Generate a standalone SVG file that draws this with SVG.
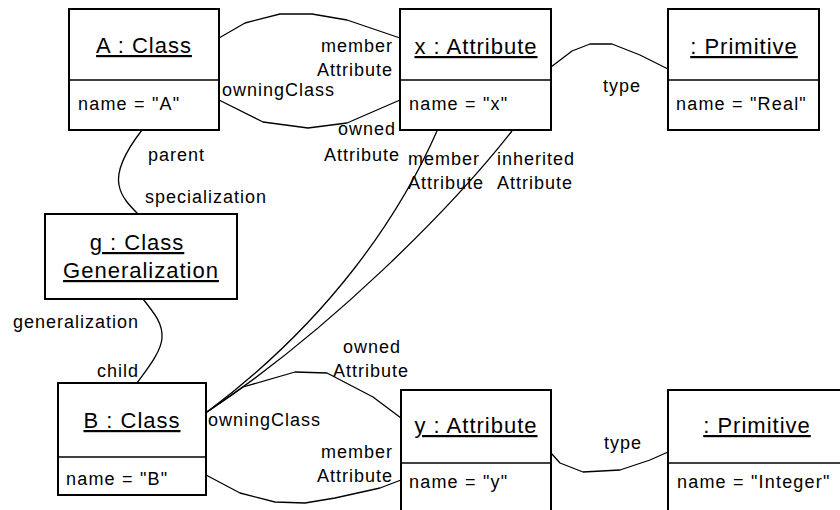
<svg xmlns="http://www.w3.org/2000/svg" width="840" height="510" viewBox="0 0 840 510">
<style>
text{font-family:"Liberation Sans",Arial,Helvetica,sans-serif;fill:#000}
.t{font-size:22px;letter-spacing:1px;text-anchor:middle;text-decoration:underline}
.a{font-size:18px;letter-spacing:1.2px}
.l{font-size:18px;letter-spacing:1px}
.r{text-anchor:end}
.box{fill:#fff;stroke:#000;stroke-width:2}
.div{stroke:#000;stroke-width:1.5}
.c{fill:none;stroke:#000;stroke-width:1.3;stroke-linejoin:round}
</style>
<rect width="840" height="510" fill="#fff"/>
<g id="connectors">
<polyline class="c" points="219,38 245,23 280,14 312,14 347,20 400,38"/>
<polyline class="c" points="219,100 263,122 308,128 347,123 400,100"/>
<polyline class="c" points="551,67 572,51 590,44 612,44 640,55 668,69"/>
<path class="c" d="M142,130 C125,152 116,170 119,185 C121,197 130,206 138,214"/>
<path class="c" d="M143,299 C155,314 163,324 162,338 C161,352 148,368 137,383"/>
<path class="c" d="M437,131 C400,215 330,320 207,412"/>
<path class="c" d="M512,131 C450,210 330,330 207,412"/>
<polyline class="c" points="207,412 243,387 295,372 327,373 373,397 401,418"/>
<polyline class="c" points="206,475 240,493 275,502 305,503 335,498 380,488 401,480"/>
<polyline class="c" points="551,453 560,463 583,472 620,470 650,460 668,452"/>
</g>
<g id="labels">
<text class="l r" x="393" y="52">member</text>
<text class="l r" x="393" y="76">Attribute</text>
<text class="l" x="222" y="96">owningClass</text>
<text class="l r" x="396" y="135">owned</text>
<text class="l r" x="400" y="161">Attribute</text>
<text class="l" x="603" y="92">type</text>
<text class="l" x="148" y="161">parent</text>
<text class="l" x="145" y="203">specialization</text>
<text class="l" x="408" y="165">member</text>
<text class="l" x="408" y="189">Attribute</text>
<text class="l" x="497" y="165">inherited</text>
<text class="l" x="497" y="189">Attribute</text>
<text class="l" x="13" y="328">generalization</text>
<text class="l" x="97" y="377">child</text>
<text class="l" x="343" y="353">owned</text>
<text class="l" x="333" y="377">Attribute</text>
<text class="l" x="208" y="426">owningClass</text>
<text class="l r" x="393" y="458">member</text>
<text class="l r" x="393" y="482">Attribute</text>
<text class="l" x="604" y="449">type</text>
</g>
<g id="A">
<rect class="box" x="69" y="9" width="150" height="121"/>
<line class="div" x1="69" y1="80" x2="219" y2="80"/>
<text class="t" x="144" y="53">A : Class</text>
<text class="a" x="78" y="110">name = "A"</text>
</g>
<g id="x">
<rect class="box" x="400" y="9" width="151" height="121"/>
<line class="div" x1="400" y1="80" x2="551" y2="80"/>
<text class="t" x="476" y="54">x : Attribute</text>
<text class="a" x="409" y="110">name = "x"</text>
</g>
<g id="real">
<rect class="box" x="668" y="9" width="151" height="121"/>
<line class="div" x1="668" y1="80" x2="819" y2="80"/>
<text class="t" x="744" y="54">: Primitive</text>
<text class="a" x="676" y="110">name = "Real"</text>
</g>
<g id="g">
<rect class="box" x="45" y="214" width="192" height="85"/>
<text class="t" x="137" y="250">g : Class</text>
<text class="t" x="141" y="278">Generalization</text>
</g>
<g id="B">
<rect class="box" x="58" y="383" width="148" height="112"/>
<line class="div" x1="58" y1="457" x2="206" y2="457"/>
<text class="t" x="132" y="428">B : Class</text>
<text class="a" x="66" y="485">name = "B"</text>
</g>
<g id="y">
<rect class="box" x="401" y="390" width="150" height="130"/>
<line class="div" x1="401" y1="463" x2="551" y2="463"/>
<text class="t" x="476" y="433">y : Attribute</text>
<text class="a" x="409" y="488">name = "y"</text>
</g>
<g id="integer">
<rect class="box" x="668" y="390" width="180" height="130"/>
<line class="div" x1="668" y1="463" x2="848" y2="463"/>
<text class="t" x="757" y="433">: Primitive</text>
<text class="a" x="677" y="488">name = "Integer"</text>
</g>
</svg>
